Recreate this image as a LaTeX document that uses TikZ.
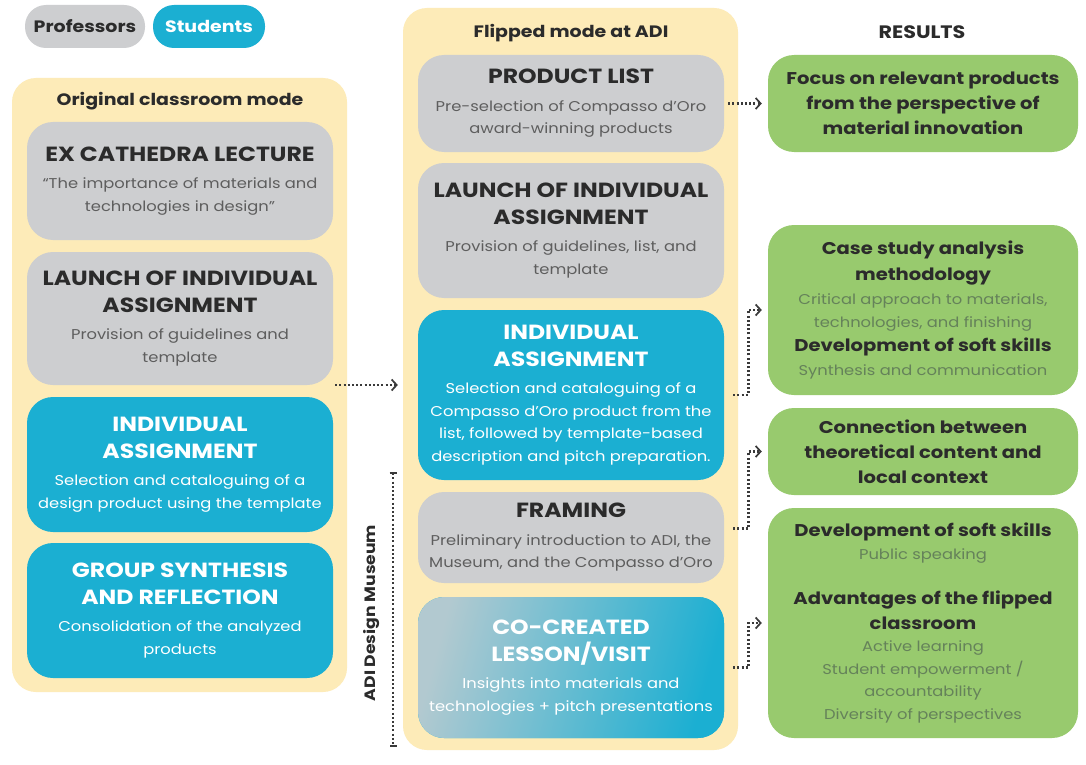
\documentclass[tikz,border=0pt]{standalone}
\usepackage{fontspec}
\setmainfont{Poppins}[FakeStretch=1.15]
\usetikzlibrary{arrows.meta}

\definecolor{panelY}{HTML}{FDEBB8}
\definecolor{cardG}{HTML}{CDCED0}
\definecolor{cardB}{HTML}{1BAFD2}
\definecolor{cardR}{HTML}{98CA6E}
\definecolor{titleD}{HTML}{2B2B2B}
\definecolor{subG}{HTML}{5E5E5E}
\definecolor{subR}{HTML}{65825A}
\definecolor{arrowC}{HTML}{3A3A3A}

% card headings: large bold capitals, coloured by the card style
\colorlet{ttl}{titleD}
\newcommand\ctitle[1]{{\fontsize{20.5}{22}\selectfont\bfseries\color{ttl}#1}}
% bold lines inside the result cards
\newcommand\rtitle[1]{{\fontsize{17}{22}\selectfont\bfseries\color{titleD}#1}}

\begin{document}
\begin{tikzpicture}[x=1pt,y=-1pt,
  panel/.style={fill=panelY, rounded corners=24pt, minimum width=335pt, inner sep=0pt},
  paneltitle/.style={font=\fontsize{16.5}{20}\selectfont\bfseries, text=titleD, inner sep=0pt},
  card/.style={rounded corners=26pt, minimum width=306pt, inner sep=0pt, align=center,
    font=\fontsize{14.2}{22.5}\selectfont},
  profcard/.style={card, fill=cardG, text=subG, execute at begin node=\colorlet{ttl}{titleD}},
  studcard/.style={card, fill=cardB, text=white, execute at begin node=\colorlet{ttl}{white}},
  rescard/.style={card, fill=cardR, minimum width=310pt, text=subR},
  pill/.style={rounded corners=21pt, minimum height=43pt, inner sep=0pt,
    font=\fontsize{16.5}{20}\selectfont\bfseries},
  flow/.style={draw=arrowC, line width=2.6pt, dash pattern=on 2pt off 2.2pt,
    -{Straight Barb[length=5pt,width=11pt,line width=1.7pt]}},
  bracket/.style={draw=arrowC, line width=2.2pt, dash pattern=on 2pt off 2.2pt,
    {Bar[width=7pt,line width=1.6pt]}-{Bar[width=7pt,line width=1.6pt]}},
]
\useasboundingbox[fill=white] (0,0) rectangle (1086,765);

% legend
\node[pill, fill=cardG, text=titleD, minimum width=120pt] (legprof) at (85,26.5) {Professors};
\node[pill, fill=cardB, text=white, minimum width=112pt] (legstud) at (209,26.5) {Students};

% column backgrounds
\node[panel, minimum height=614pt] (lpanel) at (179.5,385) {};
\node[panel, minimum height=742pt] (mpanel) at (570.5,379) {};

\node[paneltitle] (ltitle) at (180,101) {Original classroom mode};
\node[paneltitle] (mtitle) at (571,33) {Flipped mode at ADI};
\node[paneltitle, font=\fontsize{18}{20}\selectfont\bfseries] (rtitle) at (922,32) {RESULTS};

% original classroom mode
\node[profcard, minimum height=118pt] (lec) at (180,181)
  {\ctitle{EX CATHEDRA LECTURE}\\[5pt] “The importance of materials and\\ technologies in design”};
\node[profcard, minimum height=133pt] (lla) at (180,318.5)
  {\ctitle{LAUNCH OF INDIVIDUAL}\\[4.5pt] \ctitle{ASSIGNMENT}\\[5pt] Provision of guidelines and\\ template};
\node[studcard, minimum height=135pt] (lia) at (180,464.5)
  {\ctitle{INDIVIDUAL}\\[4.5pt] \ctitle{ASSIGNMENT}\\[5pt] Selection and cataloguing of a\\ design product using the template};
\node[studcard, minimum height=135pt] (lgs) at (180,610.5)
  {\ctitle{GROUP SYNTHESIS}\\[4.5pt] \ctitle{AND REFLECTION}\\[5pt] Consolidation of the analyzed\\ products};

% flipped mode at ADI
\node[profcard, minimum height=97pt] (mpl) at (571,103.5)
  {\ctitle{PRODUCT LIST}\\[5pt] Pre-selection of Compasso d’Oro\\ award-winning products};
\node[profcard, minimum height=135pt] (mla) at (571,230.5)
  {\ctitle{LAUNCH OF INDIVIDUAL}\\[4.5pt] \ctitle{ASSIGNMENT}\\[5pt] Provision of guidelines, list, and\\ template};
\node[studcard, minimum height=170pt] (mia) at (571,395)
  {\ctitle{INDIVIDUAL}\\[4.5pt] \ctitle{ASSIGNMENT}\\[5pt] Selection and cataloguing of a\\ Compasso d’Oro product from the\\ list, followed by template-based\\ description and pitch preparation.};
\node[profcard, minimum height=91pt] (mfr) at (571,537.5)
  {\ctitle{FRAMING}\\[5pt] Preliminary introduction to ADI, the\\ Museum, and the Compasso d’Oro};
\node[studcard, minimum height=141pt, left color=cardG!85!cardB, right color=cardB, shading angle=75] (mcc) at (571,667.5)
  {\ctitle{CO-CREATED}\\[4.5pt] \ctitle{LESSON/VISIT}\\[5pt] Insights into materials and\\ technologies + pitch presentations};

% results
\node[rescard, minimum height=97pt, font=\fontsize{17}{25}\selectfont] (r1) at (923,103.5)
  {\rtitle{Focus on relevant products}\\ \rtitle{from the perspective of}\\ \rtitle{material innovation}};
\node[rescard, minimum height=170pt] (r2) at (923,310)
  {\rtitle{Case study analysis}\\[3pt] \rtitle{methodology}\\[2pt] Critical approach to materials,\\ technologies, and finishing\\[2pt] \rtitle{Development of soft skills}\\[1pt] Synthesis and communication};
\node[rescard, minimum height=87pt, font=\fontsize{17}{25}\selectfont] (r3) at (923,451.5)
  {\rtitle{Connection between}\\ \rtitle{theoretical content and}\\ \rtitle{local context}};
\node[rescard, minimum height=230pt] (r4) at (923,623)
  {\rtitle{Development of soft skills}\\ Public speaking\\[23pt] \rtitle{Advantages of the flipped}\\[2pt] \rtitle{classroom}\\ Active learning\\ Student empowerment /\\ accountability\\ Diversity of perspectives};

% connectors
\draw[flow] ([xshift=-12pt]lpanel.east) -- ([xshift=-5pt]lpanel.east -| mpanel.west);
\draw[flow] ([xshift=4pt]mpl.east) -- ([xshift=-6pt]r1.west);
\draw[flow] ([xshift=9pt]mia.east) -- ++(15,0) |- ([xshift=-6pt]r2.west);
\draw[flow] ([xshift=9pt,yshift=9pt]mfr.east) -- ++(15,0) |- ([xshift=-6pt]r3.west);
\draw[flow] ([xshift=9pt]mcc.east) -- ++(15,0) |- ([xshift=-6pt]r4.west);

% ADI Design Museum span
\coordinate (adiTop) at (393,472);
\coordinate (adiBot) at (393,747);
\draw[bracket] (adiTop) -- (adiBot);
\node[rotate=90, font=\fontsize{15}{18}\selectfont\bfseries, text=titleD] (adilabel) at (372,613) {ADI Design Museum};
\end{tikzpicture}
\end{document}
